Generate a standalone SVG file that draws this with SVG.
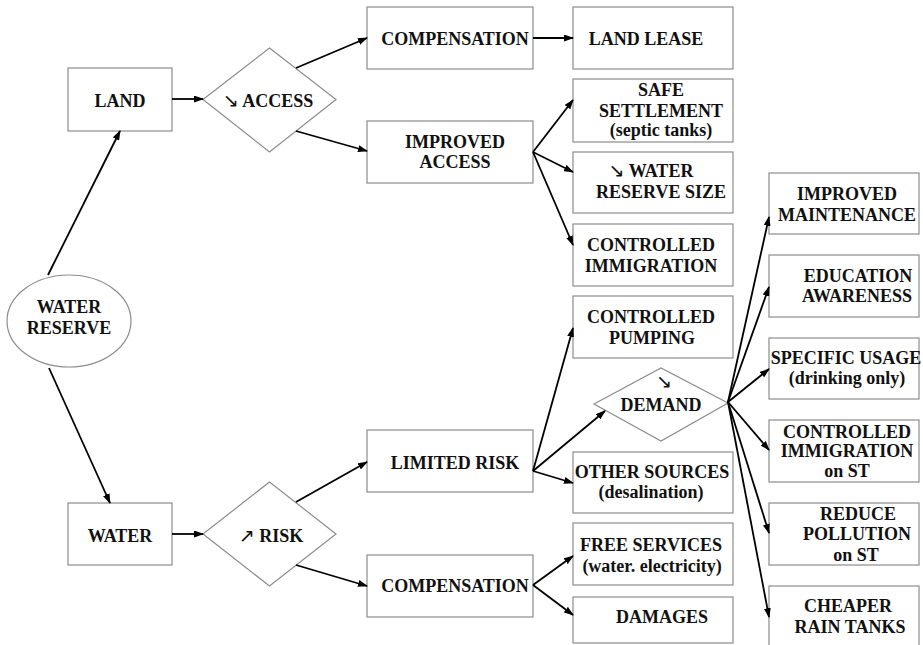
<svg xmlns="http://www.w3.org/2000/svg" width="923" height="645" viewBox="0 0 923 645">
<style>
.box{fill:#fff;stroke:#8c8c8c;stroke-width:1.2}
.t{font-family:'Liberation Serif','Tinos','Times New Roman','DejaVu Serif',serif;font-weight:700;font-size:18px;fill:#111;text-anchor:middle}
.s{font-family:'DejaVu Sans',sans-serif;font-weight:400;font-size:19px}
.c line{stroke:#000;stroke-width:1.8;marker-end:url(#ah)}
</style>
<defs>
<marker id="ah" viewBox="0 0 10 10" refX="9" refY="5" markerWidth="10" markerHeight="7" markerUnits="userSpaceOnUse" orient="auto" preserveAspectRatio="none">
<path d="M0,0 L10,5 L0,10 z" fill="#000"/>
</marker>
</defs>
<rect width="923" height="645" fill="#fff"/>

<g id="water-reserve"><ellipse class="box" cx="69" cy="321" rx="62" ry="46"/>
<text class="t" x="69" y="313">WATER</text><text class="t" x="69" y="334">RESERVE</text></g>

<g id="land"><rect class="box" x="68" y="68" width="104" height="63"/><text class="t" x="120" y="107">LAND</text></g>
<g id="access"><polygon class="box" points="203,99.5 269.5,48 336,99.5 269.5,152"/><text class="t" x="268" y="107"><tspan class="s">↘</tspan> ACCESS</text></g>
<g id="compensation-land"><rect class="box" x="367" y="7" width="166" height="62"/><text class="t" x="455" y="45">COMPENSATION</text></g>
<g id="land-lease"><rect class="box" x="573" y="7" width="160" height="62"/><text class="t" x="646" y="45">LAND LEASE</text></g>
<g id="improved-access"><rect class="box" x="367" y="121" width="166" height="62"/><text class="t" x="455" y="148">IMPROVED</text><text class="t" x="455" y="168">ACCESS</text></g>
<g id="safe-settlement"><rect class="box" x="573" y="79" width="160" height="63"/><text class="t" x="661" y="96">SAFE</text><text class="t" x="661" y="117">SETTLEMENT</text><text class="t" x="661" y="136">(septic tanks)</text></g>
<g id="water-reserve-size"><rect class="box" x="573" y="152" width="160" height="61"/><text class="t" x="651" y="177"><tspan class="s">↘</tspan>    WATER</text><text class="t" x="661" y="198">RESERVE SIZE</text></g>
<g id="controlled-immigration"><rect class="box" x="573" y="224" width="160" height="62"/><text class="t" x="651" y="251">CONTROLLED</text><text class="t" x="651" y="272">IMMIGRATION</text></g>

<g id="water"><rect class="box" x="68" y="503" width="104" height="62"/><text class="t" x="120" y="542">WATER</text></g>
<g id="risk"><polygon class="box" points="203,534 269.5,482 336,534 269.5,586"/><text class="t" x="271" y="542"><tspan class="s">↗</tspan> RISK</text></g>
<g id="limited-risk"><rect class="box" x="367" y="430" width="166" height="62"/><text class="t" x="455" y="469">LIMITED RISK</text></g>
<g id="compensation-water"><rect class="box" x="367" y="555" width="166" height="62"/><text class="t" x="455" y="592">COMPENSATION</text></g>
<g id="controlled-pumping"><rect class="box" x="573" y="296" width="160" height="62"/><text class="t" x="651" y="323">CONTROLLED</text><text class="t" x="652" y="344">PUMPING</text></g>
<g id="demand"><polygon class="box" points="594,404 661,368 728,403 661,441"/><text class="t" x="664" y="388"><tspan class="s">↘</tspan></text><text class="t" x="661" y="411">DEMAND</text></g>
<g id="other-sources"><rect class="box" x="573" y="452" width="160" height="61"/><text class="t" x="652" y="478">OTHER SOURCES</text><text class="t" x="651" y="498">(desalination)</text></g>
<g id="free-services"><rect class="box" x="573" y="523" width="160" height="62"/><text class="t" x="651" y="551">FREE SERVICES</text><text class="t" x="652" y="572">(water. electricity)</text></g>
<g id="damages"><rect class="box" x="573" y="597" width="160" height="46"/><text class="t" x="662" y="623">DAMAGES</text></g>

<g id="improved-maintenance"><rect class="box" x="769" y="173" width="150" height="61"/><text class="t" x="847" y="200">IMPROVED</text><text class="t" x="847" y="221">MAINTENANCE</text></g>
<g id="education-awareness"><rect class="box" x="769" y="255" width="150" height="62"/><text class="t" x="858" y="282">EDUCATION</text><text class="t" x="857" y="302">AWARENESS</text></g>
<g id="specific-usage"><rect class="box" x="769" y="338" width="150" height="61"/><text class="t" x="846" y="364">SPECIFIC USAGE</text><text class="t" x="847" y="384">(drinking only)</text></g>
<g id="controlled-immigration-st"><rect class="box" x="769" y="420" width="150" height="62"/><text class="t" x="847" y="438">CONTROLLED</text><text class="t" x="847" y="457">IMMIGRATION</text><text class="t" x="847" y="477">on ST</text></g>
<g id="reduce-pollution"><rect class="box" x="769" y="503" width="150" height="62"/><text class="t" x="858" y="520">REDUCE</text><text class="t" x="857" y="540">POLLUTION</text><text class="t" x="856" y="561">on ST</text></g>
<g id="cheaper-rain-tanks"><rect class="box" x="769" y="586" width="150" height="70"/><text class="t" x="848" y="612">CHEAPER</text><text class="t" x="850" y="633">RAIN TANKS</text></g>

<g id="connectors" class="c">
<line x1="48" y1="275" x2="120" y2="131"/>
<line x1="49" y1="368" x2="110" y2="503"/>
<line x1="172" y1="99" x2="203" y2="99"/>
<line x1="296" y1="68" x2="367" y2="38"/>
<line x1="296" y1="131" x2="367" y2="151"/>
<line x1="533" y1="38" x2="573" y2="38"/>
<line x1="533" y1="152" x2="573" y2="100"/>
<line x1="533" y1="152" x2="573" y2="172"/>
<line x1="533" y1="152" x2="573" y2="245"/>
<line x1="172" y1="534" x2="203" y2="534"/>
<line x1="296" y1="502" x2="367" y2="462"/>
<line x1="296" y1="565" x2="367" y2="586"/>
<line x1="533" y1="471" x2="573" y2="328"/>
<line x1="533" y1="471" x2="605" y2="411"/>
<line x1="533" y1="471" x2="573" y2="483"/>
<line x1="533" y1="585" x2="573" y2="556"/>
<line x1="533" y1="585" x2="573" y2="615"/>
<line x1="728" y1="402" x2="769" y2="217"/>
<line x1="728" y1="402" x2="769" y2="287"/>
<line x1="728" y1="402" x2="769" y2="369"/>
<line x1="728" y1="402" x2="769" y2="450"/>
<line x1="728" y1="402" x2="769" y2="533"/>
<line x1="728" y1="402" x2="769" y2="617"/>
</g>
</svg>
